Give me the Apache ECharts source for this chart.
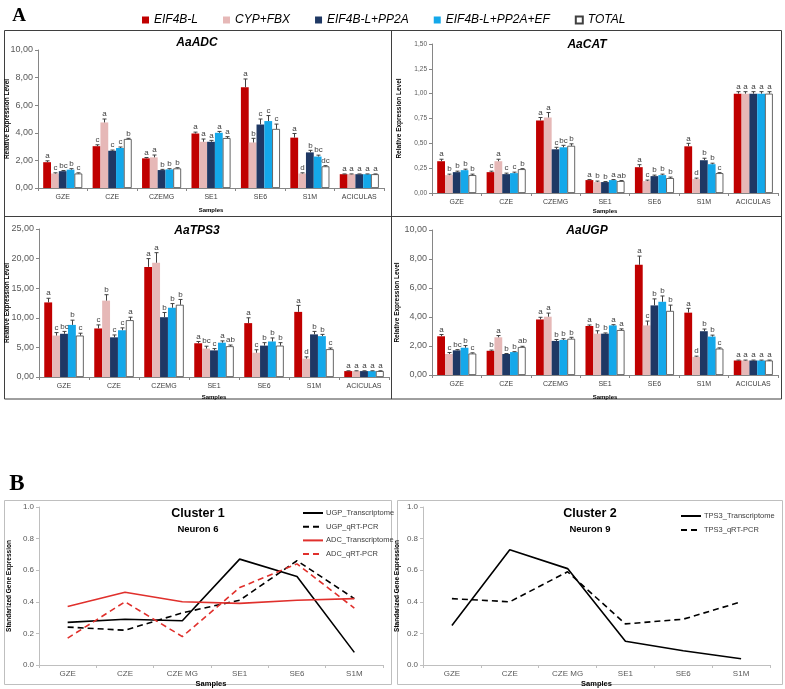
<!DOCTYPE html>
<html><head><meta charset="utf-8">
<script src="https://cdn.jsdelivr.net/npm/echarts@6.0.0/dist/echarts.min.js"></script>
<style>html,body{margin:0;padding:0;background:#fff}#c{width:785px;height:689px}</style>
</head><body><div id="c"></div>
<script>
// ---------- DATA ----------
const categories = ['GZE','CZE','CZEMG','SE1','SE6','S1M','ACICULAS'];
const treatments = ['EIF4B-L','CYP+FBX','EIF4B-L+PP2A','EIF4B-L+PP2A+EF','TOTAL'];
const treatmentColors = ['#C00000','#E6B8B7','#1F3864','#14A8EA','#FFFFFF'];

// rows = treatments, columns = categories
const adcMean = [
  [1.87,3.03,2.15,3.95,7.30,3.65,1.00],
  [1.05,4.75,2.22,3.35,3.30,1.05,1.00],
  [1.22,2.70,1.30,3.35,4.60,2.58,1.00],
  [1.33,2.90,1.35,4.00,4.85,2.28,1.00],
  [1.05,3.55,1.42,3.62,4.28,1.57,1.00]
];
const adcErr = [
  [0.10,0.10,0.06,0.10,0.60,0.30,0.02],
  [0.05,0.25,0.17,0.20,0.30,0.05,0.02],
  [0.05,0.05,0.05,0.10,0.40,0.15,0.02],
  [0.07,0.07,0.05,0.10,0.40,0.10,0.02],
  [0.05,0.05,0.05,0.10,0.35,0.05,0.02]
];
const adcLetters = [
  ['a','c','a','a','a','a','a'],
  ['c','a','a','a','b','d','a'],
  ['bc','c','b','a','c','b','a'],
  ['b','c','b','a','c','bc','a'],
  ['c','b','b','a','c','dc','a']
];

const catMean = [
  [0.32,0.21,0.73,0.13,0.26,0.47,1.00],
  [0.18,0.32,0.76,0.11,0.12,0.14,1.00],
  [0.21,0.19,0.44,0.11,0.17,0.33,1.00],
  [0.23,0.20,0.46,0.13,0.18,0.29,1.00],
  [0.18,0.24,0.475,0.12,0.15,0.20,1.00]
];
const catErr = [
  [0.02,0.01,0.03,0.005,0.025,0.03,0.02],
  [0.01,0.02,0.05,0.01,0.01,0.01,0.02],
  [0.01,0.01,0.02,0.005,0.01,0.02,0.02],
  [0.01,0.01,0.02,0.005,0.01,0.01,0.02],
  [0.01,0.005,0.02,0.005,0.01,0.005,0.02]
];
const catLetters = [
  ['a','c','a','a','a','a','a'],
  ['b','a','a','b','c','d','a'],
  ['b','c','c','b','b','b','a'],
  ['b','c','bc','a','b','b','a'],
  ['b','b','b','ab','b','c','a']
];

const tps3Mean = [
  [12.6,8.2,18.6,5.7,9.1,11.0,1.0],
  [7.0,12.9,19.3,4.8,4.1,3.1,1.0],
  [7.3,6.7,10.1,4.5,5.3,7.2,1.0],
  [8.8,7.9,11.7,5.8,6.0,6.9,1.0],
  [7.0,9.6,12.2,5.2,5.3,4.7,1.0]
];
const tps3Err = [
  [0.7,0.6,1.4,0.3,0.9,1.1,0.05],
  [0.5,1.0,1.7,0.4,0.5,0.3,0.05],
  [0.4,0.4,0.8,0.3,0.5,0.5,0.05],
  [0.8,0.4,0.7,0.3,0.6,0.3,0.05],
  [0.4,0.5,0.9,0.2,0.5,0.2,0.05]
];
const tps3Letters = [
  ['a','c','a','a','a','a','a'],
  ['c','b','a','bc','c','d','a'],
  ['bc','c','b','c','b','b','a'],
  ['b','c','b','a','b','b','a'],
  ['c','a','b','ab','b','c','a']
];

const ugpMean = [
  [2.67,1.67,3.83,3.38,7.60,4.30,1.0],
  [1.45,2.60,4.02,2.85,3.42,1.25,1.0],
  [1.70,1.45,2.35,2.85,4.80,3.02,1.0],
  [1.88,1.58,2.42,3.42,5.05,2.65,1.0],
  [1.48,1.93,2.50,3.10,4.42,1.82,1.0]
];
const ugpErr = [
  [0.12,0.05,0.15,0.07,0.60,0.30,0.03],
  [0.10,0.12,0.25,0.20,0.30,0.05,0.03],
  [0.05,0.03,0.10,0.05,0.45,0.15,0.03],
  [0.15,0.03,0.08,0.05,0.40,0.10,0.03],
  [0.05,0.05,0.10,0.08,0.40,0.05,0.03]
];
const ugpLetters = [
  ['a','b','a','a','a','a','a'],
  ['c','a','a','b','c','d','a'],
  ['bc','b','b','b','b','b','a'],
  ['b','b','b','a','b','b','a'],
  ['c','ab','b','a','b','c','a']
];

const clusterCategories = ['GZE','CZE','CZE MG','SE1','SE6','S1M'];
const ugpTranscriptome = [0.27,0.29,0.28,0.67,0.56,0.08];
const ugpQrtPcr        = [0.24,0.22,0.33,0.41,0.66,0.42];
const adcTranscriptome = [0.37,0.46,0.40,0.39,0.41,0.42];
const adcQrtPcr        = [0.17,0.40,0.18,0.49,0.64,0.36];
const tps3Transcriptome = [0.25,0.73,0.61,0.15,0.09,0.04];
const tps3QrtPcr        = [0.42,0.40,0.59,0.26,0.29,0.40];

// ---------- LAYOUT ----------
const SANS = '"Liberation Sans", Arial, sans-serif';
const GAP = 0.21;
const panels = [
  {title:'AaADC', mean:adcMean, err:adcErr, letters:adcLetters, max:10, interval:2,
   grid:{left:38, top:50, width:346, height:138}, ySize:9, yNameGap:27, xNameGap:19, tx:197, ty:43},
  {title:'AaCAT', mean:catMean, err:catErr, letters:catLetters, max:1.5, interval:0.25,
   grid:{left:432, top:44, width:346, height:149}, ySize:6.5, yNameGap:29, xNameGap:15, tx:587, ty:45},
  {title:'AaTPS3', mean:tps3Mean, err:tps3Err, letters:tps3Letters, max:25, interval:5,
   grid:{left:39, top:229, width:350, height:148}, ySize:9, yNameGap:28, xNameGap:17, tx:197, ty:231},
  {title:'AaUGP', mean:ugpMean, err:ugpErr, letters:ugpLetters, max:10, interval:2,
   grid:{left:432, top:230, width:346, height:145}, ySize:9, yNameGap:31, xNameGap:19, tx:587, ty:231}
];

const grids = [], xAxes = [], yAxes = [], series = [];
const graphics = [];

panels.forEach((p, gi) => {
  grids.push(Object.assign({outerBoundsMode:'none', containLabel:false}, p.grid));
  xAxes.push({
    type:'category', gridIndex:gi, data:categories,
    axisLine:{show:true, lineStyle:{color:'#868686', width:1}},
    axisTick:{show:true, length:3, inside:false, alignWithLabel:false, interval:0, lineStyle:{color:'#868686'}},
    axisLabel:{interval:0, fontSize:7, color:'#404040', fontFamily:SANS, margin:6, hideOverlap:false},
    splitLine:{show:false},
    name:'Samples', nameLocation:'middle', nameGap:p.xNameGap, nameMoveOverlap:false,
    nameTextStyle:{fontSize:6, fontWeight:'bold', color:'#000', fontFamily:SANS}
  });
  yAxes.push({
    type:'value', gridIndex:gi, min:0, max:p.max, interval:p.interval,
    axisLine:{show:true, lineStyle:{color:'#868686', width:1}},
    axisTick:{show:true, length:3, inside:false, lineStyle:{color:'#868686'}},
    axisLabel:{fontSize:p.ySize, color:'#595959', fontFamily:SANS, margin:5,
      formatter: v => v.toFixed(2).replace('.', ',')},
    splitLine:{show:false},
    name:'Relative Expression Level', nameLocation:'middle', nameGap:p.yNameGap, nameRotate:90,
    nameMoveOverlap:false,
    nameTextStyle:{fontSize:6.5, fontWeight:'bold', color:'#000', fontFamily:SANS}
  });
  for (let s = 0; s < 5; s++) {
    series.push({
      type:'bar', name:treatments[s], xAxisIndex:gi, yAxisIndex:gi, data:p.mean[s],
      barGap:'0%', barCategoryGap:(GAP*100)+'%',
      itemStyle:{color:treatmentColors[s], borderColor: s === 4 ? '#404040' : treatmentColors[s], borderWidth: s === 4 ? 0.8 : 0},
      emphasis:{disabled:true}, animation:false
    });
  }
  const errData = [], letterFlat = [];
  for (let s = 0; s < 5; s++) for (let c = 0; c < categories.length; c++) {
    errData.push([c, s, p.mean[s][c], p.err[s][c]]);
    letterFlat.push(p.letters[s][c]);
  }
  series.push({
    type:'custom', name:'err_' + p.title, xAxisIndex:gi, yAxisIndex:gi, data:errData,
    encode:{x:0, y:2}, z:5, clip:false, animation:false, silent:true,
    renderItem:(params, api) => {
      const c = api.value(0), s = api.value(1), m = api.value(2), e = api.value(3);
      const band = api.size([1, 0])[0];
      const group = band * (1 - GAP), bw = group / 5;
      const p0 = api.coord([c, m]), p1 = api.coord([c, m + e]);
      const x = Math.round(p0[0] - group / 2 + bw * (s + 0.5)) + 0.5;
      return {type:'group', children:[
        {type:'line', shape:{x1:x, y1:p0[1], x2:x, y2:p1[1]}, style:{stroke:'#404040', lineWidth:1}},
        {type:'line', shape:{x1:x - 2, y1:p1[1], x2:x + 2, y2:p1[1]}, style:{stroke:'#404040', lineWidth:1}},
        {type:'text', style:{text:letterFlat[params.dataIndex], x:x, y:p1[1] - 1, align:'center', verticalAlign:'bottom',
          fontSize:8, fill:'#404040', fontFamily:SANS}}
      ]};
    }
  });
  graphics.push({type:'text', x:p.tx, y:p.ty, style:{text:p.title, align:'center', verticalAlign:'middle',
    fontSize:12, fontWeight:'bold', fontStyle:'italic', fill:'#000', fontFamily:SANS}});
});

// Panel B
const clusterPanels = [
  {grid:{left:39, top:507, width:344, height:158}, yNameGap:26,
   lines:[['UGP_Transcriptome', ugpTranscriptome, '#000000', 'solid'],
          ['UGP_qRT-PCR', ugpQrtPcr, '#000000', [6,4]],
          ['ADC_Transcriptome', adcTranscriptome, '#E0302C', 'solid'],
          ['ADC_qRT-PCR', adcQrtPcr, '#E0302C', [6,4]]],
   title:'Cluster 1', sub:'Neuron 6', tx:198},
  {grid:{left:423, top:507, width:347, height:158}, yNameGap:22,
   lines:[['TPS3_Transcriptome', tps3Transcriptome, '#000000', 'solid'],
          ['TPS3_qRT-PCR', tps3QrtPcr, '#000000', [6,4]]],
   title:'Cluster 2', sub:'Neuron 9', tx:590}
];
clusterPanels.forEach((p, k) => {
  const gi = 4 + k;
  grids.push(Object.assign({outerBoundsMode:'none', containLabel:false}, p.grid));
  xAxes.push({
    type:'category', gridIndex:gi, data:clusterCategories, boundaryGap:true,
    axisLine:{show:true, lineStyle:{color:'#BFBFBF'}},
    axisTick:{show:true, length:3, alignWithLabel:false, interval:0, lineStyle:{color:'#BFBFBF'}},
    axisLabel:{interval:0, fontSize:8, color:'#595959', fontFamily:SANS, margin:5},
    splitLine:{show:false},
    name:'Samples', nameLocation:'middle', nameGap:15, nameMoveOverlap:false,
    nameTextStyle:{fontSize:7.5, fontWeight:'bold', color:'#000', fontFamily:SANS}
  });
  yAxes.push({
    type:'value', gridIndex:gi, min:0, max:1, interval:0.2,
    axisLine:{show:true, lineStyle:{color:'#BFBFBF'}},
    axisTick:{show:true, length:3, lineStyle:{color:'#BFBFBF'}},
    axisLabel:{fontSize:8, color:'#595959', fontFamily:SANS, margin:5, formatter:v => v.toFixed(1)},
    splitLine:{show:false},
    name:'Standarized Gene Expression', nameLocation:'middle', nameGap:p.yNameGap, nameRotate:90,
    nameMoveOverlap:false,
    nameTextStyle:{fontSize:6.5, fontWeight:'bold', color:'#000', fontFamily:SANS}
  });
  p.lines.forEach(l => {
    series.push({type:'line', name:l[0], xAxisIndex:gi, yAxisIndex:gi, data:l[1],
      symbol:'none', showSymbol:false, animation:false, silent:true,
      itemStyle:{color:l[2]},
      lineStyle:{color:l[2], width:1.6, type:l[3]}});
  });
  graphics.push({type:'text', x:p.tx, y:514, style:{text:p.title, align:'center', verticalAlign:'middle',
    fontSize:12.5, fontWeight:'bold', fill:'#000', fontFamily:SANS}});
  graphics.push({type:'text', x:p.tx, y:529, style:{text:p.sub, align:'center', verticalAlign:'middle',
    fontSize:9.5, fontWeight:'bold', fill:'#000', fontFamily:SANS}});
});

// frames and panel letters
graphics.push(
  {type:'rect', shape:{x:4.5, y:30.5, width:777, height:368.5}, style:{fill:'none', stroke:'#3F3F3F', lineWidth:1}, z:-1},
  {type:'line', shape:{x1:391.5, y1:30.5, x2:391.5, y2:399}, style:{stroke:'#3F3F3F', lineWidth:1}, z:-1},
  {type:'line', shape:{x1:4.5, y1:216.5, x2:781.5, y2:216.5}, style:{stroke:'#3F3F3F', lineWidth:1}, z:-1},
  {type:'rect', shape:{x:4.5, y:500.5, width:387, height:184}, style:{fill:'none', stroke:'#BFBFBF', lineWidth:1}, z:-1},
  {type:'rect', shape:{x:397.5, y:500.5, width:385, height:184}, style:{fill:'none', stroke:'#BFBFBF', lineWidth:1}, z:-1},
  {type:'text', x:19, y:16, style:{text:'A', align:'center', verticalAlign:'middle', fontSize:19, fontWeight:'bold',
    fill:'#000', fontFamily:'"Liberation Serif", "Times New Roman", serif'}},
  {type:'text', x:17, y:484, style:{text:'B', align:'center', verticalAlign:'middle', fontSize:23, fontWeight:'bold',
    fill:'#000', fontFamily:'"Liberation Serif", "Times New Roman", serif'}}
);

const lineLegendBase = {orient:'vertical', itemWidth:20, itemHeight:8, padding:0,
  itemStyle:{opacity:0, borderWidth:0},
  textStyle:{fontSize:7.5, color:'#404040', fontFamily:SANS, padding:[0,0,0,-2]}};

const option = {
  backgroundColor:'#ffffff',
  animation:false,
  grid:grids, xAxis:xAxes, yAxis:yAxes, series:series,
  legend:[
    {data:treatments, left:142, top:14, orient:'horizontal', itemWidth:7, itemHeight:7, itemGap:25, padding:0,
     icon:'rect', textStyle:{fontSize:12, fontStyle:'italic', color:'#000', fontFamily:SANS}},
    Object.assign({data:['UGP_Transcriptome','UGP_qRT-PCR','ADC_Transcriptome','ADC_qRT-PCR'],
      left:302, top:509, itemGap:5.7}, lineLegendBase),
    Object.assign({data:['TPS3_Transcriptome','TPS3_qRT-PCR'], left:680, top:512, itemGap:6}, lineLegendBase)
  ],
  graphic:graphics
};
const chart = echarts.init(document.getElementById('c'), null, {renderer:'canvas', width:785, height:689});
chart.setOption(option);
</script>
</body></html>
